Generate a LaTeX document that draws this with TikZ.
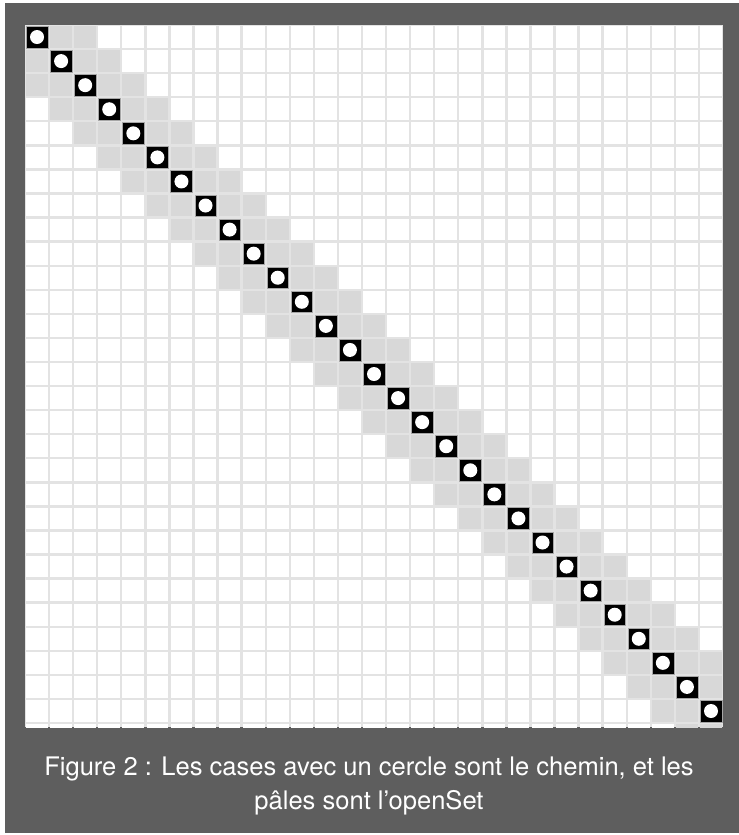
\documentclass[tikz,border=0pt]{standalone}
\usepackage{fontspec}
\setmainfont{TeX Gyre Heros}
\definecolor{panel}{HTML}{5E5E5E}
\definecolor{gridline}{HTML}{E3E3E3}
\definecolor{openset}{HTML}{D8D8D8}
\def\p{24.07}
\tikzset{
  freecell/.style={fill=white},
  opencell/.style={fill=openset},
  pathcell/.style={fill=black, draw=gray!70, line width=0.3pt},
}

\begin{document}
\begin{tikzpicture}[x=0.03cm,y=-0.03cm]
  \fill[white] (0,0) rectangle (739,835);
  \fill[panel] (5,3) rectangle (739,833);
  \begin{scope}
    \clip (25,25) rectangle (723,727);
    \fill[gridline] (25,25) rectangle (723,727);
    \foreach \i in {0,...,29} {
      \foreach \j in {0,...,28} {
        \pgfmathtruncatemacro\d{abs(\i-\j)}
        \ifnum\d=0
          \path[pathcell] ({25+\j*\p+1.2},{25+\i*\p+1.2}) rectangle ({25+(\j+1)*\p-1.2},{25+(\i+1)*\p-1.2});
          \fill[white] ({25+(\j+0.5)*\p},{25+(\i+0.5)*\p}) circle (7);
        \else\ifnum\d<3
          \path[opencell] ({25+\j*\p+1.2},{25+\i*\p+1.2}) rectangle ({25+(\j+1)*\p-1.2},{25+(\i+1)*\p-1.2});
        \else
          \path[freecell] ({25+\j*\p+1.2},{25+\i*\p+1.2}) rectangle ({25+(\j+1)*\p-1.2},{25+(\i+1)*\p-1.2});
        \fi\fi
      }
    }
  \end{scope}
  \node[text=white, align=center, font=\fontsize{21.8}{28.6}\selectfont] (caption) at (369,786)
    {Figure 2 : Les cases avec un cercle sont le chemin, et les\\pâles sont l’openSet};
\end{tikzpicture}
\end{document}
